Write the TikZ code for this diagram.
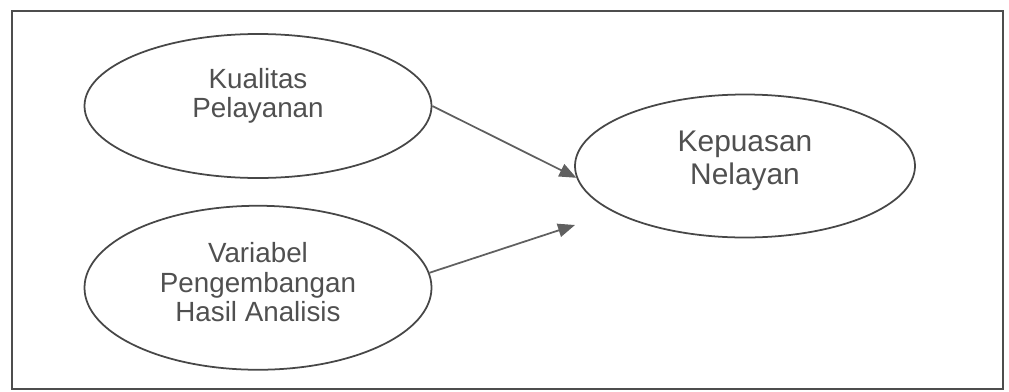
\documentclass[tikz,border=0pt]{standalone}
\usepackage{fontspec}
\setmainfont{Liberation Sans}
\usetikzlibrary{arrows.meta, positioning, shapes.geometric}
\definecolor{lineGray}{HTML}{474747}
\definecolor{arrowGray}{HTML}{606060}
\definecolor{textGray}{HTML}{505050}
\definecolor{frameGray}{HTML}{4D4D4D}

\begin{document}
\begin{tikzpicture}[
    variabel/.style={ellipse, draw=lineGray, line width=1pt, inner sep=0pt,
                     align=center, text=textGray,
                     font=\fontsize{15.8pt}{16.6pt}\selectfont},
    panah/.style={-{Triangle[length=0.34cm, width=0.27cm]}, line width=1pt,
                  arrowGray},
  ]
    \useasboundingbox (0,0) rectangle (20.18,-7.82);
    \draw[frameGray, line width=1.1pt] (0.24,-0.22) rectangle (20.06,-7.78);

    \node[variabel, minimum width=6.94cm, minimum height=2.88cm,
          text depth=0.51cm] (kualitas) at (5.16,-2.12) {Kualitas\\Pelayanan};
    \node[variabel, minimum width=6.94cm, minimum height=3.28cm,
          text depth=0.23cm, below=0.52cm of kualitas] (pengembangan)
          {Variabel\\Pengembangan\\Hasil Analisis};
    \node[variabel, minimum width=6.8cm, minimum height=2.86cm,
          text depth=0.32cm, font=\fontsize{17pt}{18.8pt}\selectfont]
          (kepuasan) at (14.9,-3.32) {Kepuasan\\Nelayan};
    \coordinate (ujung) at (11.5,-4.5);

    \draw[panah] (kualitas.east) -- (kepuasan.184);
    \draw[panah] (pengembangan.5) -- (ujung);
  \end{tikzpicture}
\end{document}
